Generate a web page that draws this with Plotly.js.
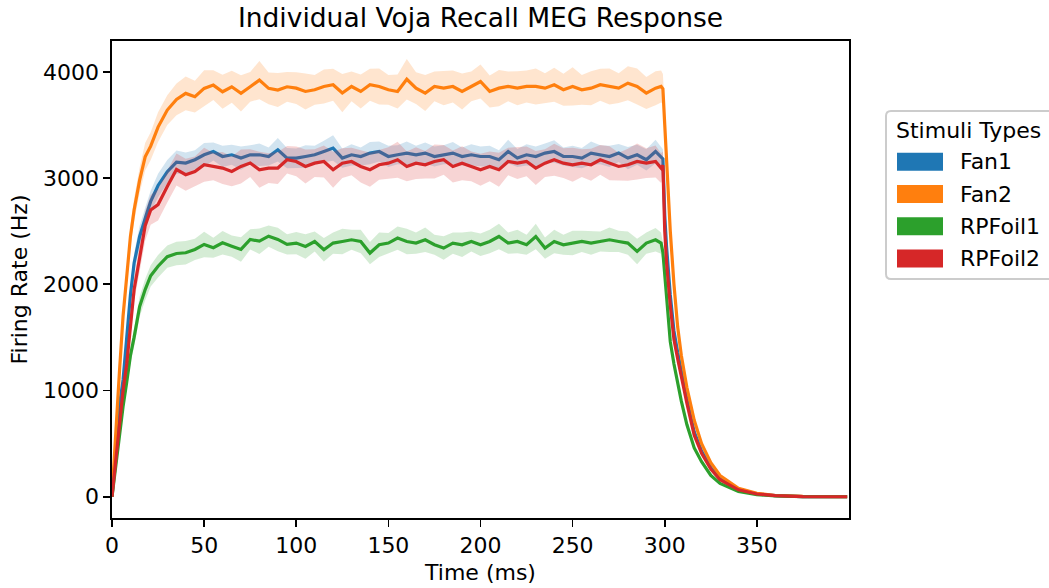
<!DOCTYPE html>
<html>
<head>
<meta charset="utf-8">
<script src="https://cdn.plot.ly/plotly-3.0.1.min.js"></script>
<style>html,body{margin:0;padding:0;background:#fff;}</style>
</head>
<body>
<div id="chart" style="width:1049px;height:588px;"></div>
<script>
// ---- data ----
var timeMs = [0,2,4,6,8,10,12,15,18,21,25,30,35,
  40,45,50,55,60,65,70,75,80,85,90,95,
  100,105,110,115,120,125,130,135,140,145,150,155,160,165,170,175,180,185,190,195,200,
  205,210,215,220,225,230,235,240,245,250,255,260,265,270,275,280,285,290,295,298,299,
  300,301,303,305,307,309,312,316,320,325,330,340,350,360,375,399];

var seriesNames = ['Fan1','Fan2','RPFoil1','RPFoil2'];

var fan1 = [0,450,850,1100,1500,1900,2200,2450,2620,2780,2930,3060,3150,
  3141,3172,3219,3250,3203,3219,3188,3219,3219,3203,3266,3188,
  3188,3203,3219,3250,3282,3188,3219,3203,3235,3250,3203,3219,3235,3219,3235,3203,3219,3235,3203,3219,3203,
  3203,3172,3250,3188,3219,3203,3235,3250,3203,3203,3188,3235,3219,3203,3235,3188,3219,3172,3250,3203,3180,
  2650,2350,1900,1560,1360,1180,920,610,430,275,170,68,27,10,2,0];

var fan2 = [0,620,1165,1700,2105,2450,2700,2980,3200,3300,3480,3640,3740,
  3797,3766,3844,3875,3812,3859,3797,3859,3922,3844,3828,3859,
  3846,3815,3831,3862,3878,3800,3862,3815,3878,3862,3831,3815,3930,3846,3800,3862,3846,3862,3815,3862,3909,
  3815,3846,3862,3846,3862,3862,3846,3878,3831,3862,3831,3846,3878,3862,3846,3893,3862,3800,3846,3862,3840,
  3500,3150,2500,2000,1600,1330,1030,720,500,320,200,80,32,12,3,0];

var rpfoil1 = [0,300,600,850,1080,1330,1500,1790,1950,2080,2170,2260,2290,
  2297,2328,2375,2344,2391,2359,2328,2422,2406,2453,2422,2375,
  2388,2356,2403,2325,2388,2403,2419,2403,2294,2372,2388,2435,2403,2388,2419,2372,2341,2388,2372,2403,2372,
  2403,2450,2388,2403,2372,2450,2341,2403,2372,2388,2403,2388,2403,2419,2403,2388,2309,2388,2419,2388,2300,
  2100,1850,1460,1250,1070,900,680,460,330,200,125,50,20,8,2,0];

var rpfoil2 = [0,350,700,1000,1250,1600,1950,2250,2550,2700,2750,2920,3080,
  3031,3062,3125,3109,3094,3062,3109,3141,3078,3094,3094,3172,
  3156,3109,3140,3156,3078,3140,3156,3109,3078,3125,3140,3172,3109,3140,3125,3156,3172,3109,3140,3109,3078,
  3109,3078,3156,3140,3156,3094,3140,3172,3140,3125,3140,3125,3172,3140,3109,3125,3156,3140,3156,3094,3120,
  2500,2200,1800,1480,1300,1130,880,580,410,260,160,65,26,10,2,0];

// half-width of the shaded band around each mean line
var fan1Spread = [0,30,50,60,70,80,90,100,100,100,110,110,110,
  100,90,110,85,100,95,110,90,105,85,110,95,
  90,105,85,100,120,90,100,85,105,95,100,90,110,85,100,95,90,105,85,100,95,
  100,90,110,85,100,95,90,105,85,100,95,110,90,100,85,105,95,100,110,95,90,
  80,70,55,45,38,32,25,18,13,9,6,2,1,0,0,0];
var fan2Spread = [0,40,60,80,90,100,110,120,130,130,140,140,150,
  160,150,170,140,160,150,170,140,180,150,160,140,
  150,170,140,160,150,180,140,160,150,170,140,160,190,150,170,140,160,150,170,140,160,
  150,170,140,160,150,170,140,160,150,180,140,160,150,170,140,160,170,150,160,150,140,
  120,100,80,65,52,44,34,24,17,11,7,3,1,0,0,0];
var rpfoil1Spread = [0,30,40,55,65,75,85,95,100,100,105,105,110,
  110,100,120,95,110,100,115,95,120,100,110,95,
  105,115,95,110,100,120,95,110,105,115,95,110,120,100,115,95,110,100,115,95,105,
  110,120,100,110,95,120,100,110,95,115,100,110,95,115,100,110,120,100,110,100,95,
  80,65,50,42,36,30,23,16,11,7,4,2,1,0,0,0];
var rpfoil2Spread = [0,30,50,70,90,100,110,130,140,140,150,150,150,
  150,140,160,130,150,140,160,130,170,140,150,130,
  140,160,130,150,170,140,130,150,160,140,150,170,140,150,130,160,140,150,160,140,150,
  140,160,130,150,140,160,130,150,140,160,130,150,140,160,130,150,170,140,150,140,130,
  110,95,75,62,52,45,35,24,17,11,7,3,1,0,0,0];

var seriesColors = ['#1f77b4','#ff7f0e','#2ca02c','#d62728'];
var bandColors = ['rgba(31,119,180,0.2)','rgba(255,127,14,0.2)','rgba(44,160,44,0.2)','rgba(214,39,40,0.2)'];

var xTicks = [0,50,100,150,200,250,300,350];
var yTicks = [0,1000,2000,3000,4000];

// ---- build traces ----
var means = [fan1, fan2, rpfoil1, rpfoil2];
var spreads = [fan1Spread, fan2Spread, rpfoil1Spread, rpfoil2Spread];
var traces = [];
for (var s = 0; s < means.length; s++) {
  var lo = means[s].map(function(v, i){ return v - spreads[s][i]; });
  var hi = means[s].map(function(v, i){ return v + spreads[s][i]; });
  traces.push({x: timeMs, y: lo, type:'scatter', mode:'lines', line:{width:0, color:bandColors[s]},
    showlegend:false, hoverinfo:'skip'});
  traces.push({x: timeMs, y: hi, type:'scatter', mode:'lines', line:{width:0, color:bandColors[s]},
    fill:'tonexty', fillcolor:bandColors[s], showlegend:false, hoverinfo:'skip'});
  traces.push({x: timeMs, y: means[s], type:'scatter', mode:'lines', name: seriesNames[s],
    line:{width:3.2, color:seriesColors[s]}, showlegend:false});
}

// ---- manual legend (matplotlib-style patches) ----
var L = 112, R = 849, T = 41, B = 518;
function px(x){ return (x - L) / (R - L); }
function py(y){ return (B - y) / (B - T); }
var font = 'DejaVu Sans, Verdana, sans-serif';
var fs = 22;

var shapes = [];
var annotations = [];
(function(){
  var x0 = 886, y0 = 111, x1 = 1075, y1 = 279, r = 5;
  var p = 'M ' + px(x0 + r) + ',' + py(y0) +
    ' L ' + px(x1 - r) + ',' + py(y0) +
    ' Q ' + px(x1) + ',' + py(y0) + ' ' + px(x1) + ',' + py(y0 + r) +
    ' L ' + px(x1) + ',' + py(y1 - r) +
    ' Q ' + px(x1) + ',' + py(y1) + ' ' + px(x1 - r) + ',' + py(y1) +
    ' L ' + px(x0 + r) + ',' + py(y1) +
    ' Q ' + px(x0) + ',' + py(y1) + ' ' + px(x0) + ',' + py(y1 - r) +
    ' L ' + px(x0) + ',' + py(y0 + r) +
    ' Q ' + px(x0) + ',' + py(y0) + ' ' + px(x0 + r) + ',' + py(y0) + ' Z';
  shapes.push({type:'path', xref:'paper', yref:'paper', path:p,
    line:{color:'#cccccc', width:2}, fillcolor:'rgba(255,255,255,0.8)', layer:'above'});
})();
annotations.push({xref:'paper', yref:'paper', x:px(894), y:py(130), xanchor:'left', yanchor:'middle',
  text:'Stimuli Types', showarrow:false, font:{family:font, size:fs, color:'#000'}});
for (var k = 0; k < seriesNames.length; k++) {
  var cy = 161.7 + k * 32.3;
  shapes.push({type:'rect', xref:'paper', yref:'paper', x0:px(897), x1:px(943), y0:py(cy - 9), y1:py(cy + 9),
    line:{width:0}, fillcolor:seriesColors[k], layer:'above'});
  annotations.push({xref:'paper', yref:'paper', x:px(958), y:py(cy), xanchor:'left', yanchor:'middle',
    text:seriesNames[k], showarrow:false, font:{family:font, size:fs, color:'#000'}});
}

var layout = {
  width:1049, height:588,
  margin:{l:L, r:1049 - R, t:T, b:588 - B, pad:0},
  paper_bgcolor:'#ffffff', plot_bgcolor:'#ffffff',
  showlegend:false,
  font:{family:font, size:fs, color:'#000'},
  title:{text:'Individual Voja Recall MEG Response', x:0.5, xref:'paper', xanchor:'center',
    y:1 - 18/588, yref:'container', yanchor:'middle', font:{family:font, size:26.5, color:'#000'}},
  xaxis:{range:[0,400], tickvals:xTicks, ticktext:xTicks.map(String), showgrid:false, zeroline:false,
    showline:true, mirror:true, linecolor:'#000', linewidth:1.6, ticks:'outside', ticklen:7, tickwidth:1.6,
    tickcolor:'#000', tickfont:{family:font, size:fs, color:'#000'},
    title:{text:'Time (ms)', font:{family:font, size:fs, color:'#000'}, standoff:7}},
  yaxis:{range:[-200,4290], tickvals:yTicks, ticktext:yTicks.map(String), showgrid:false, zeroline:false,
    showline:true, mirror:true, linecolor:'#000', linewidth:1.6, ticks:'outside', ticklen:7, tickwidth:1.6,
    tickcolor:'#000', tickfont:{family:font, size:fs, color:'#000'},
    title:{text:'Firing Rate (Hz)', font:{family:font, size:fs, color:'#000'}, standoff:9}},
  shapes:shapes,
  annotations:annotations
};

Plotly.newPlot('chart', traces, layout, {displayModeBar:false, staticPlot:true});
</script>
</body>
</html>
